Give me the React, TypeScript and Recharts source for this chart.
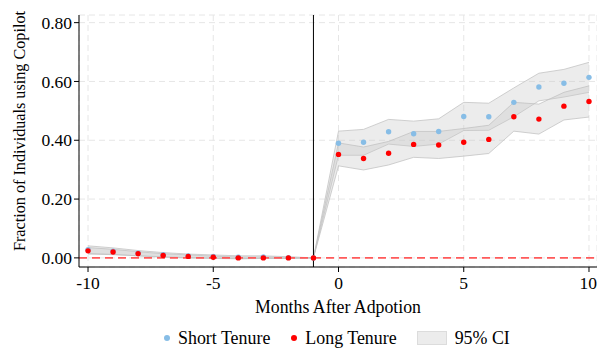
import {
  ComposedChart,
  Area,
  Line,
  XAxis,
  YAxis,
  CartesianGrid,
  ReferenceLine,
} from "recharts";

const months = [-10, -9, -8, -7, -6, -5, -4, -3, -2, -1, 0, 1, 2, 3, 4, 5, 6, 7, 8, 9, 10];

const shortMean = [0.028, 0.023, 0.016, 0.011, 0.007, 0.005, 0.002, 0.003, 0.001, 0, 0.39, 0.393, 0.429, 0.422, 0.43, 0.481, 0.48, 0.529, 0.581, 0.594, 0.614];
const shortLower = [0.015, 0.012, 0.007, 0.004, 0.001, 0.0, -0.003, -0.001, -0.002, 0, 0.349, 0.349, 0.387, 0.379, 0.387, 0.433, 0.434, 0.48, 0.534, 0.547, 0.563];
const shortUpper = [0.041, 0.034, 0.025, 0.018, 0.013, 0.01, 0.007, 0.007, 0.004, 0, 0.431, 0.437, 0.471, 0.465, 0.473, 0.529, 0.526, 0.578, 0.628, 0.641, 0.665];

const longMean = [0.024, 0.02, 0.014, 0.008, 0.005, 0.002, 0, 0, 0, 0, 0.352, 0.338, 0.356, 0.386, 0.384, 0.393, 0.403, 0.48, 0.472, 0.516, 0.532];
const longLower = [0.013, 0.011, 0.007, 0.002, 0.0, -0.002, -0.003, -0.002, -0.002, 0, 0.313, 0.299, 0.316, 0.342, 0.338, 0.346, 0.355, 0.431, 0.421, 0.469, 0.479];
const longUpper = [0.035, 0.029, 0.021, 0.014, 0.01, 0.006, 0.003, 0.003, 0.002, 0, 0.391, 0.377, 0.396, 0.43, 0.43, 0.44, 0.451, 0.529, 0.523, 0.563, 0.585];

const xTicks = [-10, -5, 0, 5, 10];
const yTicks = [0, 0.2, 0.4, 0.6, 0.8];

const SERIF = "'Liberation Serif', 'Times New Roman', serif";
const BLUE = "#87bde6";
const RED = "#ff0000";

const rows = months.map((m, i) => ({
  m,
  short: shortMean[i],
  long: longMean[i],
  shortCI: [shortLower[i], shortUpper[i]],
  longCI: [longLower[i], longUpper[i]],
}));

// rotated y title, nudged a little above the plot's middle
function YTitle() {
  const cx = 19.5;
  const cy = 131;
  return (
    <text
      x={cx}
      y={cy}
      transform={`rotate(-90 ${cx} ${cy})`}
      textAnchor="middle"
      dominantBaseline="central"
      fontFamily={SERIF}
      fontSize={16.2}
      fill="#000"
    >
      Fraction of Individuals using Copilot
    </text>
  );
}

function XTitle() {
  return (
    <text x={338} y={313} textAnchor="middle" fontFamily={SERIF} fontSize={17.8} fill="#000">
      Months After Adpotion
    </text>
  );
}

function LegendRow() {
  const text = { fontFamily: SERIF, fontSize: 17.9, color: "#000", lineHeight: "20px" };
  const dot = (c: string) => ({ width: 6, height: 6, borderRadius: 3, background: c, display: "inline-block" });
  return (
    <div
      style={{
        position: "absolute",
        left: 164,
        top: 328,
        display: "flex",
        alignItems: "center",
        whiteSpace: "nowrap",
      }}
    >
      <span style={dot(BLUE)} />
      <span style={{ ...text, marginLeft: 8 }}>Short Tenure</span>
      <span style={{ ...dot(RED), marginLeft: 21 }} />
      <span style={{ ...text, marginLeft: 8 }}>Long Tenure</span>
      <span
        style={{
          marginLeft: 20,
          width: 28,
          height: 12,
          background: "#ececec",
          border: "1px solid #dcdcdc",
          display: "inline-block",
        }}
      />
      <span style={{ ...text, marginLeft: 8 }}>95% CI</span>
    </div>
  );
}

export default function App() {
  return (
    <div style={{ position: "fixed", left: 0, top: 0, width: 597, height: 350, background: "#fff" }}>
      <ComposedChart width={597} height={350} data={rows} margin={{ top: 15, right: 0, bottom: 33, left: 0 }}>
        <CartesianGrid stroke="#e6e6e6" strokeDasharray="6 4" />
        <XAxis
          dataKey="m"
          type="number"
          domain={[-10.36, 10.32]}
          ticks={xTicks}
          allowDataOverflow
          height={50}
          stroke="#000"
          tickSize={5}
          tickMargin={5}
          tick={{ fill: "#000", fontFamily: SERIF, fontSize: 17.5 }}
          label={<XTitle />}
        />
        <YAxis
          type="number"
          domain={[-0.031, 0.826]}
          ticks={yTicks}
          allowDataOverflow
          width={79}
          stroke="#000"
          tickSize={5}
          tickFormatter={(v) => v.toFixed(2)}
          tick={{ fill: "#000", fontFamily: SERIF, fontSize: 17.5 }}
          label={<YTitle />}
        />
        <Area
          type="linear"
          dataKey="shortCI"
          stroke="#c0c0c0"
          strokeOpacity={0.75}
          strokeWidth={1}
          fill="#c8c8c8"
          fillOpacity={0.35}
          dot={false}
          activeDot={false}
          isAnimationActive={false}
        />
        <Area
          type="linear"
          dataKey="longCI"
          stroke="#c0c0c0"
          strokeOpacity={0.75}
          strokeWidth={1}
          fill="#c8c8c8"
          fillOpacity={0.35}
          dot={false}
          activeDot={false}
          isAnimationActive={false}
        />
        <ReferenceLine y={0} stroke="#ff5a5a" strokeWidth={1.6} strokeDasharray="8 5" />
        <ReferenceLine x={-1} stroke="#000" strokeWidth={1} />
        <Line
          dataKey="short"
          stroke="none"
          dot={{ r: 2.7, fill: BLUE, stroke: "none" }}
          activeDot={false}
          isAnimationActive={false}
        />
        <Line
          dataKey="long"
          stroke="none"
          dot={{ r: 2.7, fill: RED, stroke: "none" }}
          activeDot={false}
          isAnimationActive={false}
        />
      </ComposedChart>
      <LegendRow />
    </div>
  );
}
